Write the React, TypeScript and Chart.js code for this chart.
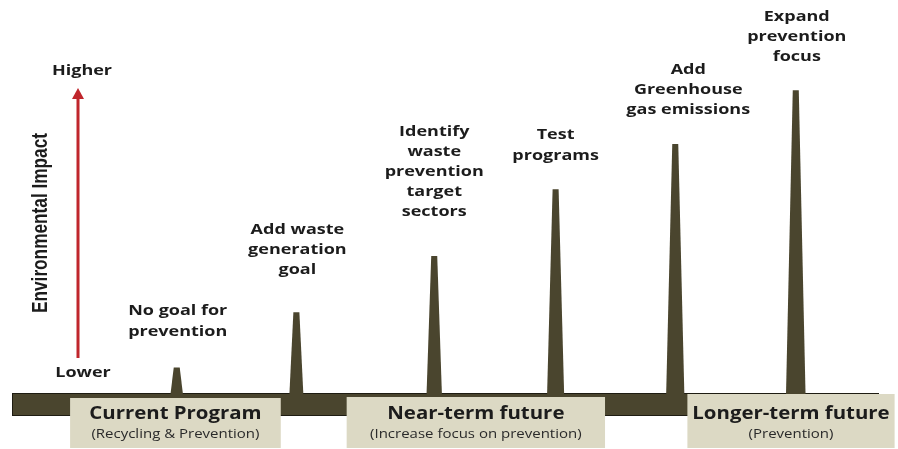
import React, { useEffect, useRef } from 'react';
import { Chart, registerables } from 'chart.js';
Chart.register(...registerables);

// ---- data ----
const stageLabels: string[][] = [
  ['No goal for', 'prevention'],
  ['Add waste', 'generation', 'goal'],
  ['Identify', 'waste', 'prevention', 'target', 'sectors'],
  ['Test', 'programs'],
  ['Add', 'Greenhouse', 'gas emissions'],
  ['Expand', 'prevention', 'focus'],
];
const stagePositions = [1.9, 3.28, 4.87, 6.27, 7.65, 9.04];
const impactValues = [0.84, 2.65, 4.49, 6.68, 8.16, 9.93];

const phaseTitles = ['Current Program', 'Near-term future', 'Longer-term future'];
const phaseSubtitles = ['(Recycling & Prevention)', '(Increase focus on prevention)', '(Prevention)'];
const phaseStarts = [0.67, 3.86, 7.79];
const phaseEnds = [3.1, 6.84, 10.18];

const axisTitle = 'Environmental Impact';
const highLabel = 'Higher';
const lowLabel = 'Lower';

// ---- layout (not data) ----
const labelGaps = [36, 42, 44, 34, 34, 33];
const labelShiftX = [1, 1, 0, 0, 13, 1];
const boxTopOffsets = [5, 4, 1];

const OLIVE = '#4a452e';
const BEIGE = '#dcd9c4';
const TEXT = '#1c1c1c';
const RED = '#c0262c';
const FONT = '"Open Sans", "DejaVu Sans", sans-serif';
const STRETCH = 1.2;

function wideText(ctx: CanvasRenderingContext2D, text: string, x: number, y: number) {
  ctx.save();
  ctx.translate(x, y);
  ctx.scale(STRETCH, 1);
  ctx.textAlign = 'center';
  ctx.textBaseline = 'middle';
  ctx.fillText(text, 0, 0);
  ctx.restore();
}

const timelinePlugin = {
  id: 'timeline',
  afterDatasetsDraw(chart: any) {
    const { ctx, chartArea, scales } = chart;
    const xs = scales.x;
    const ys = scales.y;
    const base = ys.getPixelForValue(0);
    const meta = chart.getDatasetMeta(0);
    ctx.save();

    // base bar
    ctx.fillStyle = OLIVE;
    ctx.fillRect(chartArea.left, base, chartArea.right - chartArea.left, 23);
    ctx.strokeStyle = '#1e1c12';
    ctx.lineWidth = 1;
    ctx.strokeRect(chartArea.left + 0.5, base + 0.5, chartArea.right - chartArea.left - 1, 22);

    // spikes
    meta.data.forEach((pt: any, i: number) => {
      const x = pt.x;
      const yTop = pt.y;
      const h = base - yTop;
      const wb = 12 + h * 0.025;
      const wt = 6;
      ctx.beginPath();
      ctx.moveTo(x - wb / 2, base + 2);
      ctx.lineTo(x - wt / 2, yTop);
      ctx.lineTo(x + wt / 2, yTop);
      ctx.lineTo(x + wb / 2, base + 2);
      ctx.closePath();
      ctx.fillStyle = OLIVE;
      ctx.fill();

      // label
      const lines = stageLabels[i];
      const lh = 20.2;
      const lastY = yTop - labelGaps[i];
      ctx.fillStyle = TEXT;
      ctx.font = `bold 15px ${FONT}`;
      lines.forEach((ln, j) => {
        wideText(ctx, ln, x + labelShiftX[i], lastY - (lines.length - 1 - j) * lh);
      });
    });

    // phase boxes
    phaseTitles.forEach((t, i) => {
      const x0 = xs.getPixelForValue(phaseStarts[i]);
      const x1 = xs.getPixelForValue(phaseEnds[i]);
      const top = base + boxTopOffsets[i];
      const bottom = base + 55;
      ctx.fillStyle = BEIGE;
      ctx.fillRect(x0, top, x1 - x0, bottom - top);
      const cx = (x0 + x1) / 2;
      ctx.fillStyle = TEXT;
      ctx.font = `bold 17px ${FONT}`;
      wideText(ctx, t, cx, base + 21);
      ctx.fillStyle = '#2a2a2a';
      ctx.font = `12.5px ${FONT}`;
      wideText(ctx, phaseSubtitles[i], cx, base + 41);
    });

    // y axis arrow
    const ax = chartArea.left + 66;
    const aTop = ys.getPixelForValue(10);
    const aBottom = base - 35;
    ctx.strokeStyle = RED;
    ctx.lineWidth = 3;
    ctx.beginPath();
    ctx.moveTo(ax, aBottom);
    ctx.lineTo(ax, aTop + 9);
    ctx.stroke();
    ctx.fillStyle = RED;
    ctx.beginPath();
    ctx.moveTo(ax, aTop);
    ctx.lineTo(ax - 6, aTop + 11);
    ctx.lineTo(ax + 6, aTop + 11);
    ctx.closePath();
    ctx.fill();

    ctx.fillStyle = TEXT;
    ctx.font = `bold 15px ${FONT}`;
    wideText(ctx, highLabel, ax + 4, aTop - 17);
    wideText(ctx, lowLabel, ax + 5, base - 20);

    // rotated axis title
    ctx.save();
    ctx.translate(chartArea.left + 29, (aTop + aBottom) / 2);
    ctx.rotate(-Math.PI / 2);
    ctx.font = `bold 22px "Liberation Sans Narrow", "Liberation Sans", ${FONT}`;
    const w = ctx.measureText(axisTitle).width;
    ctx.scale(180 / w, 1);
    ctx.fillStyle = TEXT;
    ctx.textAlign = 'center';
    ctx.textBaseline = 'middle';
    ctx.fillText(axisTitle, 0, 0);
    ctx.restore();

    ctx.restore();
  },
};

export default function App() {
  const ref = useRef<HTMLCanvasElement>(null);
  useEffect(() => {
    document.body.style.margin = '0';
    if (!ref.current) return;
    const chart = new Chart(ref.current, {
      type: 'scatter',
      data: {
        datasets: [
          {
            data: stagePositions.map((x, i) => ({ x, y: impactValues[i] })),
            pointRadius: 0,
            pointHoverRadius: 0,
          },
        ],
      },
      options: {
        animation: false,
        responsive: false,
        layout: { padding: { left: 12, right: 19, top: 88, bottom: 56 } },
        scales: {
          x: { type: 'linear', min: 0, max: 10, display: false },
          y: { type: 'linear', min: 0, max: 10, display: false },
        },
        plugins: { legend: { display: false }, tooltip: { enabled: false } },
      },
      plugins: [timelinePlugin],
    } as any);
    return () => chart.destroy();
  }, []);
  return (
    <div style={{ position: 'absolute', left: 0, top: 0, width: 898, height: 449, background: '#fff' }}>
      <canvas ref={ref} width={898} height={449} />
    </div>
  );
}
